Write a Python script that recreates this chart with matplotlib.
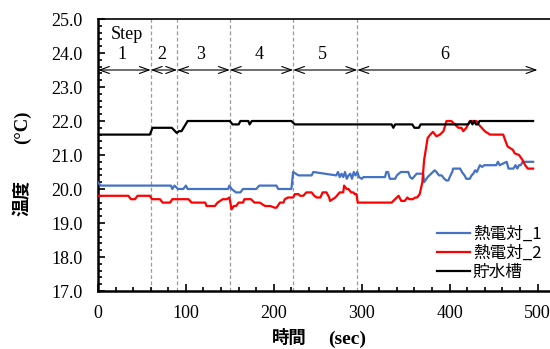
import matplotlib
matplotlib.use("Agg")
import matplotlib.pyplot as plt
from matplotlib.ticker import MultipleLocator, FormatStrFormatter

# ---------------- data ----------------
t_tank = [0, 59, 62, 84, 89.5, 92, 95, 102, 150, 153, 160, 162, 171, 172.5, 175, 220, 224,
          334, 336, 338, 357.5, 360, 365, 367, 421, 424, 426, 428, 430, 432, 434, 436.5, 495]
v_tank = [21.6, 21.6, 21.8, 21.8, 21.65, 21.7, 21.7, 22.0, 22.0, 21.9, 21.9, 22.0, 22.0, 21.9,
          22.0, 22.0, 21.9, 21.9, 21.8, 21.9, 21.9, 21.8, 21.8, 21.9, 21.9, 22.0, 21.9, 22.0,
          21.9, 21.9, 22.0, 22.0, 22.0]

t_tc1 = [0, 3, 83, 84.5, 87, 91, 97, 100, 102, 148, 149.5, 152, 157, 162, 165, 180, 183.5, 203,
         205, 220, 222, 228, 243, 245, 271, 273, 275, 277, 279, 281, 283, 285, 287, 289, 291, 293,
         295, 297, 300, 302, 326.5, 328, 330, 332, 338, 340, 344.5, 353, 355, 357.5, 362.5, 370,
         371, 375, 379, 383, 385, 388, 391, 394, 396.5, 398.5, 401, 403, 404, 412, 414, 417, 419,
         423, 425, 427, 429, 431, 434.5, 437, 439.5, 453, 455, 457, 465, 467, 472.5, 475, 477,
         479, 481, 483, 495]
v_tc1 = [20.2, 20.1, 20.1, 20.0, 20.1, 20.0, 20.0, 20.1, 20.0, 20.0, 20.1, 20.0, 19.9, 19.9,
         20.0, 20.0, 20.1, 20.1, 20.0, 20.0, 20.5, 20.4, 20.4, 20.5, 20.4, 20.5, 20.35, 20.45,
         20.35, 20.5, 20.3, 20.4, 20.45, 20.3, 20.5, 20.4, 20.5, 20.35, 20.3, 20.35, 20.35, 20.5,
         20.5, 20.3, 20.3, 20.4, 20.5, 20.5, 20.35, 20.3, 20.45, 20.45, 20.2, 20.35, 20.45, 20.55,
         20.5, 20.4, 20.4, 20.3, 20.25, 20.25, 20.4, 20.5, 20.6, 20.6, 20.5, 20.4, 20.3, 20.3,
         20.4, 20.45, 20.55, 20.5, 20.7, 20.65, 20.7, 20.7, 20.8, 20.7, 20.8, 20.6, 20.6, 20.7,
         20.6, 20.7, 20.7, 20.8, 20.8]

t_tc2 = [0, 34.5, 37.5, 42, 45, 59, 61.5, 70.5, 73.5, 82, 84.5, 103, 106.5, 122, 123.5, 133,
         136, 142, 146.5, 149.5, 152, 154.5, 157, 160, 165, 166.5, 174, 178, 184, 190, 196, 201,
         203, 207, 211, 212.5, 216, 222, 224, 228, 230, 233.5, 237, 243, 246, 249, 253, 255.5,
         260, 263, 264, 270, 275, 279, 280, 283, 285, 288, 290.5, 292, 294, 295.5, 334, 338, 342,
         345, 349, 352, 354, 358, 361, 363, 366, 369, 371, 375, 378, 381, 385, 389, 393, 396.5,
         402, 406, 410, 413.5, 415.5, 419, 421, 423, 430.5, 433, 436.5, 440, 446, 461, 463, 466,
         472, 474, 479, 483, 486, 489, 495]
v_tc2 = [19.8, 19.8, 19.7, 19.7, 19.8, 19.8, 19.7, 19.7, 19.6, 19.6, 19.7, 19.7, 19.6, 19.6,
         19.5, 19.5, 19.6, 19.7, 19.7, 19.75, 19.4, 19.5, 19.5, 19.6, 19.6, 19.7, 19.7, 19.6,
         19.6, 19.5, 19.5, 19.45, 19.45, 19.6, 19.6, 19.7, 19.75, 19.75, 19.85, 19.85, 19.8, 19.8,
         19.9, 19.9, 19.8, 19.75, 19.75, 19.9, 19.9, 19.75, 19.65, 19.75, 19.9, 19.9, 20.1, 20.0,
         20.0, 19.9, 19.9, 19.85, 19.85, 19.6, 19.6, 19.7, 19.8, 19.65, 19.65, 19.75, 19.7, 19.7,
         19.75, 19.75, 19.85, 20.2, 20.85, 21.5, 21.6, 21.68, 21.55, 21.6, 21.7, 22.0, 22.0, 21.9,
         21.8, 21.8, 21.7, 21.8, 21.9, 22.0, 22.0, 21.9, 21.8, 21.7, 21.6, 21.6, 21.45, 21.25,
         21.15, 21.05, 21.0, 20.85, 20.7, 20.6, 20.6]

step_bounds = [0, 60, 90, 150, 222, 295, 500]
step_labels = ["1", "2", "3", "4", "5", "6"]
series_names = ["熱電対_1", "熱電対_2", "貯水槽"]
x_ticks = [0, 100, 200, 300, 400, 500]

# ---------------- figure ----------------
W, H = 550, 349
fig = plt.figure(figsize=(W / 100, H / 100), dpi=100)
left_px, right_px, top_px, bot_px = 98, 98 + 550 * 0.879, 19, 291
ax = fig.add_axes([left_px / W, 1 - bot_px / H, (right_px - left_px) / W, (bot_px - top_px) / H])

serif = "Liberation Serif"
cjk = "Noto Sans CJK JP"

ax.set_xlim(0, 550)
ax.set_ylim(17.0, 25.0)

# step dividers
for b in step_bounds[1:-1]:
    ax.axvline(b, color="#9a9a9a", lw=0.9, ls=(0, (3, 2)), zorder=1)

ln1, = ax.plot(t_tc1, v_tc1, color="#4472C4", lw=1.6, zorder=3)
ln2, = ax.plot(t_tc2, v_tc2, color="#FF0000", lw=1.6, zorder=3)
ln3, = ax.plot(t_tank, v_tank, color="#000000", lw=1.6, zorder=4)

# step arrows
arrow_y = 23.5
for a, b, lab in zip(step_bounds[:-1], step_bounds[1:], step_labels):
    ax.annotate("", xy=(b, arrow_y), xytext=(a, arrow_y),
                arrowprops=dict(arrowstyle="<->,head_length=0.7,head_width=0.25",
                                color="black", lw=0.8, shrinkA=0, shrinkB=0))
    ax.text((a + b) / 2 - 3, 23.95, lab, ha="center", va="center",
            fontsize=13, family=serif)
ax.text(33, 24.55, "Step", ha="center", va="center", fontsize=13, family=serif)

# ticks
ax.set_xticks(x_ticks)
ax.xaxis.set_minor_locator(MultipleLocator(20))
ax.yaxis.set_major_locator(MultipleLocator(1.0))
ax.yaxis.set_minor_locator(MultipleLocator(0.2))
ax.yaxis.set_major_formatter(FormatStrFormatter("%.1f"))
ax.tick_params(which="both", direction="in", labelsize=13, width=1.2)
ax.tick_params(which="major", length=5)
ax.tick_params(which="minor", length=3)
ax.tick_params(axis="x", pad=10)
ax.tick_params(axis="y", pad=11)
for lab in ax.get_xticklabels() + ax.get_yticklabels():
    lab.set_family(serif)

for s in ["left", "bottom"]:
    ax.spines[s].set_linewidth(1.8)
ax.spines["top"].set_linewidth(1.2)
ax.spines["right"].set_visible(False)

# axis labels
fig.text(22 / W, 1 - 198 / H, "温度", rotation=90, ha="center", va="center",
         fontsize=13, fontweight="bold", family=cjk)
fig.text(22 / W, 1 - 127 / H, "(°C)", rotation=90, ha="center", va="center",
         fontsize=13.5, fontweight="bold", family=serif)
fig.text(289 / W, 1 - 338 / H, "時間", ha="center", va="center",
         fontsize=12.5, fontweight="bold", family=cjk)
fig.text(347 / W, 1 - 339 / H, "(sec)", ha="center", va="center",
         fontsize=14, fontweight="bold", family=serif)

# legend
leg = fig.legend([ln1, ln2, ln3], series_names, loc="upper left",
                 bbox_to_anchor=(422 / W, 1 - 211 / H), frameon=False,
                 prop={"family": cjk, "size": 12}, handlelength=2.0,
                 handletextpad=0.15, labelspacing=0.12)

fig.savefig("out.png", dpi=100)
